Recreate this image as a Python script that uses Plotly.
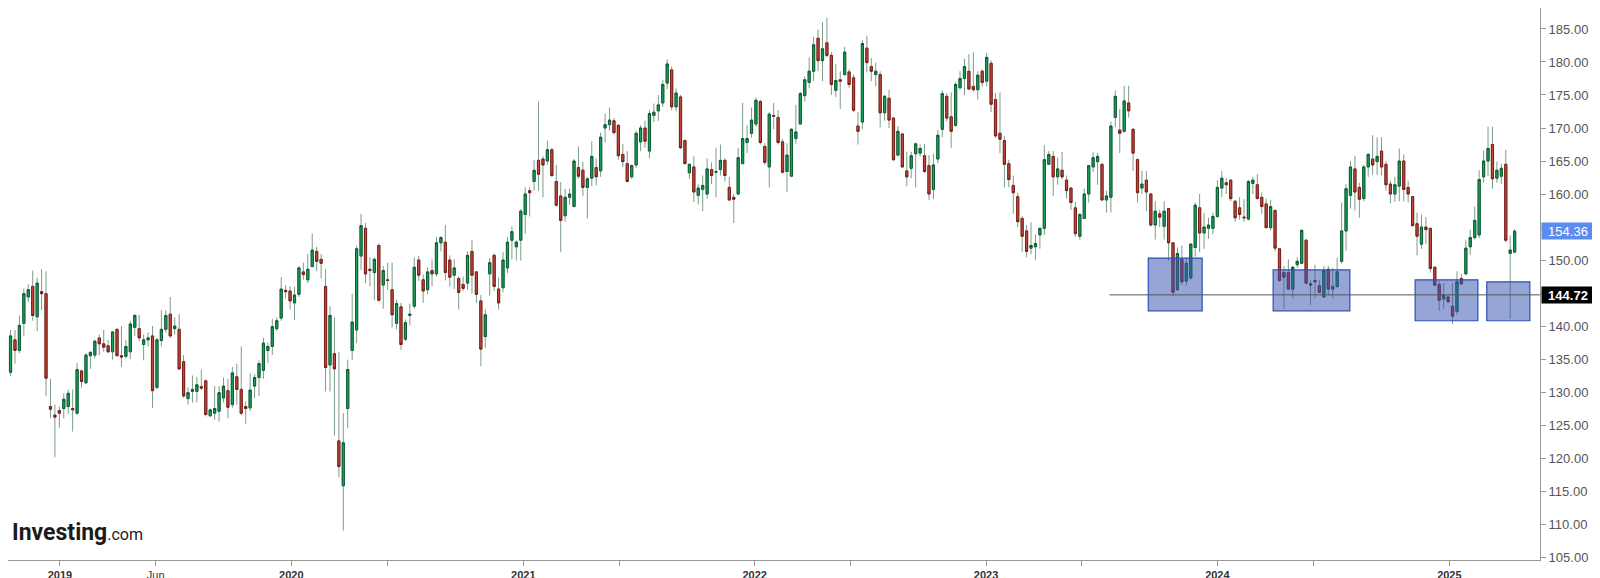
import pandas as pd
import plotly.graph_objects as go

# ---------------- data (weekly candles, Mon 2018-10-08 .. 2025-04-14) ----------------
start_week = "2018-10-08"

opens = [
    138.2, 133.0, 137.9, 136.3, 140.4, 144.4, 146.0, 141.4, 145.2, 144.9,
    127.8, 126.5, 127.2, 127.5, 127.8, 127.5, 126.8, 133.2, 131.4, 135.5,
    135.6, 138.2, 137.3, 137.0, 136.1, 139.5, 135.5, 135.4, 136.1, 139.8,
    139.6, 137.2, 137.9, 138.5, 130.7, 137.8, 139.5, 141.8, 139.6, 139.5,
    134.6, 129.0, 130.1, 130.1, 130.8, 131.7, 126.4, 126.8, 127.1, 129.1,
    130.2, 128.1, 132.3, 130.4, 127.8, 127.6, 130.9, 132.2, 133.3, 136.3,
    136.9, 139.6, 141.2, 145.4, 145.3, 143.5, 144.8, 148.2, 147.0, 149.0,
    151.3, 150.1, 146.0, 134.1, 135.8, 122.6, 115.8, 127.5, 136.3, 139.4,
    150.6, 154.8, 148.6, 148.1, 152.2, 146.2, 147.0, 145.5, 140.4, 142.9,
    138.0, 141.6, 143.0, 150.0, 147.0, 145.5, 148.4, 147.9, 152.6, 152.7,
    150.0, 147.7, 147.2, 146.3, 146.5, 151.3, 148.2, 143.8, 138.4, 147.9,
    150.7, 145.6, 145.8, 148.8, 153.0, 152.0, 153.0, 156.9, 160.5, 161.9,
    165.1, 165.3, 165.0, 166.7, 161.9, 159.7, 156.7, 159.5, 158.1, 164.0,
    163.6, 161.0, 162.4, 164.0, 163.5, 170.0, 170.5, 171.1, 170.4, 166.0,
    164.6, 162.6, 164.4, 167.9, 170.0, 166.5, 171.9, 172.6, 173.8, 176.8,
    178.8, 173.2, 174.7, 168.1, 163.2, 164.1, 159.8, 160.7, 160.0, 163.7,
    163.3, 163.7, 165.1, 161.0, 159.5, 160.0, 164.6, 167.8, 169.2, 170.6,
    174.0, 167.2, 164.1, 171.9, 171.6, 167.9, 163.4, 162.7, 168.4, 170.6,
    174.9, 176.9, 178.6, 183.6, 180.2, 182.9, 181.0, 175.7, 177.3, 178.1,
    178.5, 177.6, 170.3, 170.9, 182.1, 179.3, 178.1, 178.1, 172.3, 174.5,
    171.5, 165.9, 169.1, 163.5, 163.9, 166.1, 166.2, 165.8, 164.3, 160.7,
    165.3, 169.8, 174.8, 171.7, 170.4, 176.1, 177.5, 178.6, 176.3, 175.8,
    178.6, 177.1, 179.8, 174.3, 169.2, 168.1, 164.6, 161.3, 159.6, 156.3,
    154.4, 151.8, 152.0, 153.8, 154.8, 164.5, 165.7, 162.6, 163.6, 162.1,
    160.9, 157.9, 153.6, 156.3, 160.0, 164.1, 164.9, 164.5, 159.1, 159.5,
    171.6, 169.7, 169.5, 173.8, 169.8, 165.2, 160.9, 162.1, 160.0, 155.3,
    157.0, 155.1, 157.8, 152.6, 145.5, 150.1, 146.8, 147.3, 151.9, 157.9,
    154.1, 154.8, 154.8, 156.6, 160.9, 161.7, 162.1, 158.9, 157.9, 156.5,
    156.2, 161.6, 161.4, 159.5, 158.5, 154.9, 157.5, 151.7, 148.1, 148.1,
    145.6, 149.3, 149.5, 153.0, 146.4, 146.9, 146.1, 144.4, 148.6, 145.6,
    146.0, 149.8, 154.4, 159.8, 163.8, 161.0, 159.3, 164.1, 165.3, 164.9,
    166.5, 164.5, 161.5, 160.0, 161.2, 165.0, 161.0, 159.6, 155.5, 152.4,
    155.0, 154.8, 148.9, 146.3, 144.1, 144.4, 143.0, 142.2, 147.2, 147.9,
    152.0, 153.4, 153.8, 162.6, 165.0, 167.5, 162.4, 162.7, 164.5, 151.0,
    151.2,
]
highs = [
    139.9, 139.4, 139.4, 141.6, 145.7, 146.3, 148.4, 147.3, 148.6, 148.3,
    132.0, 128.1, 127.8, 129.8, 130.4, 130.4, 134.4, 133.4, 135.9, 136.2,
    137.9, 138.7, 139.4, 137.9, 139.2, 139.6, 140.0, 137.9, 140.8, 141.8,
    141.7, 138.7, 139.0, 140.0, 138.2, 142.4, 142.4, 144.4, 141.3, 141.8,
    135.6, 130.7, 132.5, 132.3, 133.4, 131.9, 127.5, 130.9, 130.9, 132.2,
    132.0, 133.8, 134.3, 136.9, 128.6, 132.8, 132.7, 134.8, 138.2, 137.5,
    141.1, 141.3, 147.4, 146.2, 146.0, 146.0, 149.1, 149.6, 150.9, 154.0,
    152.0, 150.9, 148.6, 143.0, 141.3, 136.1, 126.8, 134.9, 144.9, 152.2,
    157.0, 155.6, 150.4, 150.4, 152.5, 149.1, 149.6, 149.6, 144.0, 143.5,
    141.0, 143.4, 150.4, 150.6, 147.8, 148.9, 150.1, 153.5, 153.6, 155.3,
    150.7, 150.1, 147.5, 147.5, 151.3, 153.0, 148.3, 144.7, 142.5, 150.3,
    151.0, 147.3, 151.2, 153.5, 155.1, 153.0, 157.7, 161.0, 161.0, 165.2,
    174.0, 165.7, 168.1, 167.0, 164.4, 161.8, 160.8, 160.8, 165.3, 167.2,
    164.9, 162.6, 168.0, 165.4, 169.3, 172.2, 173.1, 171.5, 170.6, 167.6,
    166.5, 164.5, 169.6, 170.4, 171.1, 172.7, 173.7, 175.0, 177.3, 180.4,
    179.3, 176.0, 175.0, 168.3, 164.6, 165.7, 161.5, 162.8, 165.4, 164.8,
    167.0, 167.5, 165.4, 162.6, 160.0, 167.0, 173.8, 170.4, 173.1, 174.6,
    174.3, 167.7, 172.4, 173.8, 172.7, 168.3, 167.7, 170.0, 173.5, 175.5,
    177.8, 180.7, 183.8, 184.9, 186.0, 186.7, 181.5, 179.7, 178.6, 182.3,
    178.9, 178.1, 172.4, 183.3, 184.0, 180.6, 179.9, 178.6, 175.0, 175.8,
    171.7, 170.3, 169.2, 166.4, 166.4, 167.8, 167.5, 167.6, 165.9, 166.1,
    169.7, 175.7, 175.3, 175.4, 176.9, 178.6, 180.5, 181.2, 181.5, 178.6,
    178.9, 181.4, 180.2, 175.3, 175.4, 168.8, 165.2, 162.8, 160.2, 156.7,
    155.3, 155.7, 153.9, 154.9, 167.4, 166.5, 166.5, 165.5, 166.4, 162.8,
    161.0, 158.8, 157.1, 160.8, 164.4, 166.4, 166.2, 164.6, 160.5, 171.0,
    175.7, 172.9, 176.4, 176.4, 170.0, 165.4, 163.5, 163.5, 160.1, 158.9,
    157.6, 158.9, 157.9, 152.7, 151.9, 152.2, 150.3, 152.6, 158.7, 160.0,
    157.1, 156.4, 157.2, 162.1, 163.5, 162.4, 162.2, 159.1, 159.5, 159.2,
    162.1, 162.6, 163.0, 160.2, 159.3, 159.1, 157.7, 151.8, 149.1, 150.1,
    149.1, 150.4, 154.6, 153.2, 147.0, 149.3, 147.0, 149.1, 149.1, 148.8,
    150.4, 158.7, 161.5, 165.0, 165.8, 161.7, 164.4, 166.2, 168.9, 168.6,
    168.6, 165.0, 162.0, 162.6, 166.9, 166.0, 162.0, 159.7, 157.2, 156.9,
    156.5, 154.8, 149.1, 146.8, 146.5, 144.7, 146.5, 148.3, 147.9, 153.0,
    154.6, 158.1, 163.6, 166.6, 170.2, 170.2, 164.9, 164.6, 166.7, 153.7,
    154.7,
]
lows = [
    131.4, 132.4, 134.3, 135.9, 138.5, 143.6, 140.8, 139.2, 142.4, 129.4,
    126.0, 120.1, 124.6, 126.0, 126.7, 124.0, 126.5, 130.7, 131.2, 133.5,
    135.1, 135.6, 136.1, 135.9, 134.9, 135.4, 133.8, 135.1, 135.0, 138.5,
    137.7, 134.8, 136.9, 127.6, 130.4, 136.9, 139.0, 138.2, 138.7, 133.3,
    129.1, 128.1, 128.4, 128.4, 130.3, 126.3, 126.2, 125.8, 125.5, 128.4,
    126.0, 127.6, 128.1, 126.5, 125.2, 127.1, 129.1, 129.4, 132.0, 134.4,
    135.6, 139.2, 140.8, 144.2, 142.5, 140.9, 144.4, 147.0, 146.5, 149.0,
    148.3, 147.2, 130.1, 130.1, 123.4, 117.1, 109.0, 124.5, 134.8, 137.4,
    148.5, 146.5, 146.0, 143.9, 143.7, 142.6, 145.5, 139.8, 139.5, 136.4,
    137.7, 140.1, 142.6, 146.8, 143.5, 144.8, 146.0, 147.5, 151.3, 146.9,
    146.0, 145.6, 142.5, 145.3, 145.5, 144.9, 143.5, 133.9, 136.7, 144.6,
    145.3, 142.5, 145.1, 148.0, 150.1, 149.9, 149.9, 154.0, 156.6, 160.5,
    160.5, 159.5, 164.4, 162.6, 158.1, 151.2, 155.8, 158.4, 158.0, 162.3,
    159.7, 156.3, 161.2, 161.3, 162.6, 167.8, 169.6, 169.0, 165.2, 164.1,
    161.8, 162.3, 163.9, 166.5, 167.0, 165.4, 170.9, 171.1, 173.2, 175.9,
    172.7, 172.5, 166.8, 164.5, 162.3, 158.8, 158.4, 157.4, 159.3, 161.5,
    159.5, 162.8, 161.9, 158.9, 155.6, 159.8, 164.6, 166.2, 168.5, 170.2,
    167.5, 164.4, 161.0, 169.8, 167.5, 163.1, 160.3, 162.6, 167.6, 170.6,
    174.0, 176.0, 177.1, 178.6, 177.1, 180.7, 175.0, 174.7, 172.9, 177.9,
    176.1, 172.4, 167.5, 169.8, 178.4, 177.1, 176.3, 170.1, 171.1, 170.0,
    165.0, 165.7, 164.0, 161.2, 162.4, 161.0, 165.7, 163.2, 159.1, 159.2,
    164.7, 168.6, 171.0, 167.0, 170.2, 175.8, 175.0, 175.8, 175.5, 174.3,
    176.3, 176.3, 172.4, 168.5, 166.2, 161.0, 161.0, 157.0, 155.0, 151.2,
    150.4, 150.9, 150.0, 151.7, 153.8, 164.4, 159.7, 161.4, 162.2, 159.3,
    157.6, 153.5, 153.0, 156.2, 158.7, 163.3, 161.4, 158.9, 157.2, 157.2,
    170.1, 166.2, 169.3, 171.6, 163.5, 158.7, 160.0, 157.4, 155.1, 153.1,
    155.0, 153.1, 149.9, 144.6, 145.3, 146.2, 146.1, 147.0, 150.5, 151.2,
    151.7, 153.2, 153.9, 156.4, 159.5, 160.0, 158.9, 155.8, 156.1, 155.8,
    156.0, 160.0, 159.2, 157.0, 154.8, 154.5, 151.3, 146.7, 142.6, 145.5,
    144.2, 148.8, 149.4, 146.4, 143.2, 144.2, 145.0, 144.3, 144.6, 144.2,
    145.7, 149.5, 151.4, 157.8, 157.5, 156.4, 158.9, 162.6, 162.9, 162.9,
    162.8, 160.5, 158.6, 158.8, 158.9, 158.9, 158.7, 155.1, 150.7, 151.7,
    152.4, 148.1, 146.0, 142.3, 142.6, 143.4, 140.3, 141.7, 146.2, 147.7,
    150.8, 153.1, 153.3, 161.7, 162.7, 160.8, 161.7, 161.5, 152.7, 141.1,
    151.0,
]
closes = [
    133.0, 138.5, 136.3, 140.1, 144.9, 145.5, 141.6, 146.5, 144.9, 132.1,
    127.4, 126.2, 126.8, 128.9, 129.8, 127.3, 133.4, 131.6, 135.6, 136.0,
    137.7, 137.3, 136.8, 136.1, 139.1, 135.5, 135.3, 136.9, 140.3, 141.6,
    138.2, 137.9, 138.2, 130.2, 137.9, 139.5, 141.6, 138.5, 140.0, 133.5,
    129.4, 129.9, 130.4, 131.1, 130.6, 126.6, 127.3, 127.5, 129.9, 130.9,
    127.7, 132.9, 130.4, 126.8, 127.5, 130.3, 132.2, 134.3, 137.4, 136.9,
    139.9, 140.8, 145.6, 145.2, 143.8, 144.7, 148.8, 147.8, 148.6, 151.5,
    149.8, 149.5, 133.7, 141.6, 133.5, 118.7, 122.3, 133.4, 140.6, 151.7,
    155.2, 147.9, 148.4, 150.1, 143.9, 148.4, 146.9, 141.7, 143.4, 137.2,
    140.5, 141.8, 148.9, 147.7, 145.3, 148.2, 147.9, 152.6, 153.4, 148.1,
    147.4, 148.8, 145.1, 145.7, 150.7, 147.7, 144.8, 136.5, 141.7, 149.6,
    146.0, 143.5, 150.0, 152.7, 154.3, 152.7, 157.4, 160.0, 160.2, 163.6,
    163.0, 164.4, 166.7, 162.8, 158.3, 156.0, 159.5, 160.0, 165.0, 162.7,
    161.0, 162.3, 165.7, 162.6, 168.6, 170.5, 171.2, 169.3, 165.8, 164.9,
    161.9, 164.3, 169.2, 170.0, 168.0, 172.2, 172.4, 173.5, 176.6, 179.7,
    173.2, 175.3, 167.0, 164.6, 164.5, 160.3, 160.9, 161.3, 163.8, 162.8,
    163.4, 165.1, 162.8, 159.1, 159.2, 165.5, 168.4, 168.4, 171.2, 174.2,
    167.8, 164.8, 172.1, 171.8, 167.8, 163.3, 165.9, 169.8, 169.4, 175.2,
    177.3, 178.6, 182.6, 180.2, 182.0, 181.0, 176.6, 177.2, 177.1, 181.5,
    176.6, 172.7, 169.5, 182.8, 179.9, 178.6, 178.6, 172.3, 174.8, 171.2,
    165.2, 169.5, 164.1, 162.6, 165.8, 167.6, 166.9, 163.4, 160.0, 164.4,
    168.9, 175.2, 171.5, 169.5, 176.6, 177.5, 179.3, 175.9, 175.8, 178.0,
    176.9, 180.7, 173.6, 168.8, 168.3, 164.5, 162.2, 160.2, 155.8, 153.6,
    151.3, 152.2, 152.5, 154.8, 165.2, 166.0, 162.6, 163.8, 162.6, 160.5,
    158.7, 154.0, 156.9, 160.0, 164.3, 165.5, 165.7, 159.1, 159.7, 170.3,
    174.8, 169.2, 174.1, 172.6, 166.2, 160.2, 161.5, 160.3, 155.3, 157.4,
    156.5, 157.4, 152.6, 145.1, 151.0, 146.7, 149.5, 152.4, 158.3, 154.1,
    155.0, 155.3, 156.6, 161.0, 162.4, 161.4, 159.3, 156.4, 156.9, 156.4,
    161.9, 162.1, 159.3, 158.1, 154.9, 158.1, 151.8, 146.9, 147.4, 145.6,
    148.9, 149.8, 154.5, 146.5, 146.2, 146.7, 145.1, 148.4, 145.6, 146.0,
    148.2, 154.4, 160.8, 164.1, 160.3, 159.2, 164.1, 166.0, 164.4, 165.7,
    164.1, 161.4, 160.0, 161.4, 165.0, 160.7, 160.0, 155.2, 153.6, 155.0,
    154.6, 148.7, 146.2, 143.9, 144.7, 143.7, 141.5, 146.7, 146.4, 151.8,
    153.4, 156.0, 162.2, 165.0, 166.9, 162.3, 163.6, 163.9, 153.0, 151.5,
    154.36,
]

# y-axis ticks (145 and 155 are hidden behind the price tags in the original)
y_ticks = [105, 110, 115, 120, 125, 130, 135, 140, 145, 150, 155, 160, 165, 170, 175, 180, 185]
y_hidden_labels = [145, 155]
# x-axis ticks
x_tick_dates = ["2019-01-01", "2019-06-01", "2020-01-01", "2020-06-01", "2021-01-01", "2021-06-01",
                "2022-01-01", "2022-06-01", "2023-01-01", "2023-06-01", "2024-01-01", "2024-06-01",
                "2025-01-01"]
x_tick_labels = ["<b>2019</b>", "Jun", "<b>2020</b>", "", "<b>2021</b>", "", "<b>2022</b>", "",
                 "<b>2023</b>", "", "<b>2024</b>", "", "<b>2025</b>"]

# support level and highlighted zones
support_level = 144.72
support_start = "2023-07-15"
last_price = 154.36
zones_x0 = ["2023-09-14", "2024-03-29", "2024-11-08", "2025-03-01"]
zones_x1 = ["2023-12-08", "2024-07-28", "2025-02-15", "2025-05-08"]
zones_y0 = [142.3, 142.3, 140.8, 140.8]
zones_y1 = [150.3, 148.5, 147.0, 146.7]

# ---------------- figure ----------------
dates = pd.date_range(start_week, periods=len(closes), freq="7D")
body_hi = [max(o, c) for o, c in zip(opens, closes)]
body_lo = [min(o, c) for o, c in zip(opens, closes)]

WICK = "#7d9c8a"
fig = go.Figure()
fig.add_trace(go.Candlestick(
    x=dates, open=opens, high=highs, low=lows, close=closes,
    increasing=dict(line=dict(color=WICK, width=1), fillcolor=WICK),
    decreasing=dict(line=dict(color=WICK, width=1), fillcolor=WICK),
    whiskerwidth=0, hoverinfo="skip", showlegend=False,
))
fig.add_trace(go.Candlestick(
    x=dates, open=opens, high=body_hi, low=body_lo, close=closes,
    increasing=dict(line=dict(color="#0d5c33", width=1), fillcolor="#18a05c"),
    decreasing=dict(line=dict(color="#7a1d17", width=1), fillcolor="#c4473d"),
    whiskerwidth=0, hoverinfo="skip", showlegend=False,
))

for x0, x1, y0, y1 in zip(zones_x0, zones_x1, zones_y0, zones_y1):
    fig.add_shape(type="rect", xref="x", yref="y", x0=x0, x1=x1, y0=y0, y1=y1,
                  fillcolor="rgba(52,82,176,0.52)", line=dict(color="#2e4fb8", width=1.2),
                  layer="above")

fig.add_shape(type="line", xref="x", yref="y", x0=support_start, x1="2025-06-20",
              y0=support_level, y1=support_level, line=dict(color="#555555", width=1))

fig.add_annotation(xref="paper", yref="y", x=1.0, y=last_price, xanchor="left", yanchor="middle",
                   text=f"{last_price:.2f}", showarrow=False, bgcolor="#5b8def",
                   font=dict(color="white", size=13, family="Liberation Sans"),
                   width=52, height=16, borderpad=0, xshift=1)
fig.add_annotation(xref="paper", yref="y", x=1.0, y=support_level, xanchor="left", yanchor="middle",
                   text=f"<b>{support_level:.2f}</b>", showarrow=False, bgcolor="#000000",
                   font=dict(color="white", size=13, family="Liberation Sans"),
                   width=52, height=16, borderpad=0, xshift=1)

fig.add_annotation(xref="paper", yref="paper", x=0.001, y=0.05, xanchor="left", yanchor="middle",
                   text="<b>Investing</b><span style='font-size:16px'>.com</span>", showarrow=False,
                   font=dict(color="#1b1b1b", size=23, family="Roboto"))

fig.update_layout(
    width=1600, height=578,
    margin=dict(l=0, r=68, t=0, b=26),
    plot_bgcolor="white", paper_bgcolor="white",
    showlegend=False, hovermode=False,
    xaxis=dict(
        type="date", range=["2018-10-11", "2025-05-24"],
        rangeslider=dict(visible=False),
        tickvals=x_tick_dates, ticktext=x_tick_labels,
        ticks="outside", ticklen=5, tickcolor="#999999",
        showline=True, linecolor="#999999", linewidth=1,
        showgrid=False, zeroline=False,
        tickfont=dict(family="Liberation Sans", size=11, color="#333333"),
    ),
    yaxis=dict(
        side="right", range=[104.55, 188.18],
        tickvals=y_ticks,
        ticktext=["" if v in y_hidden_labels else f"{v:.2f}" for v in y_ticks],
        ticks="outside", ticklen=5, tickcolor="#999999",
        showline=True, linecolor="#999999", linewidth=1,
        showgrid=False, zeroline=False,
        tickfont=dict(family="Liberation Sans", size=13, color="#555555"),
    ),
)

fig.write_html("out.html")
